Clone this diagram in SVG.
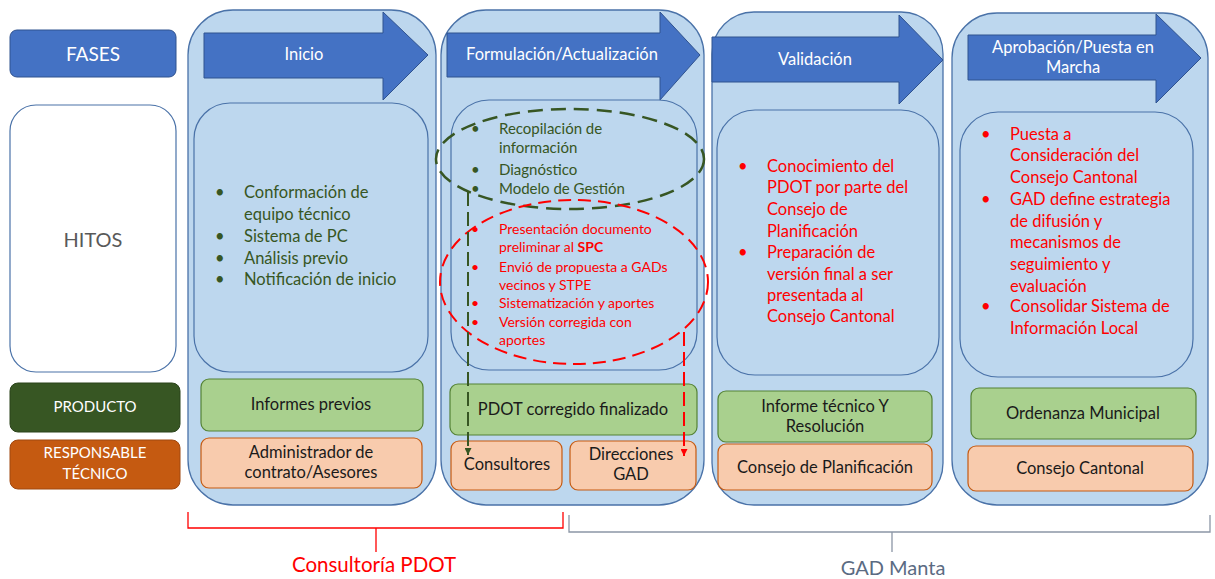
<svg xmlns="http://www.w3.org/2000/svg" width="1215" height="579" viewBox="0 0 1215 579">
<style>
text{font-family:Lato,"Noto Sans","Liberation Sans",sans-serif}
.outer{fill:#BDD7EE;stroke:#4A72A8;stroke-width:1.3}
.inner{fill:#BDD7EE;stroke:#4A72A8;stroke-width:1.2}
.arrow{fill:#4472C4;stroke:#2F528F;stroke-width:1}
.atxt{fill:#fff;font-size:16.5px;text-anchor:middle}
.prod{fill:#A9D08E;stroke:#548235;stroke-width:1.2}
.resp{fill:#F8CBAD;stroke:#C55A11;stroke-width:1.2}
.btxt{fill:#1a1a1a;font-size:16.5px;text-anchor:middle}
.g{fill:#375623;font-size:16.5px}
.gs{fill:#375623;font-size:15px}
.r{fill:#FF0000;font-size:16.5px}
.rs{fill:#FF0000;font-size:14px}
.lbl{fill:#fff;text-anchor:middle}
</style>
<defs>
<marker id="mg" viewBox="0 0 10 10" refX="5" refY="10" markerWidth="7" markerHeight="7" markerUnits="userSpaceOnUse"><path d="M0,0 L10,0 L5,10 z" fill="#375623"/></marker>
<marker id="mr" viewBox="0 0 10 10" refX="5" refY="10" markerWidth="7" markerHeight="7" markerUnits="userSpaceOnUse"><path d="M0,0 L10,0 L5,10 z" fill="#FF0000"/></marker>
</defs>

<g id="label-fases"><rect x="10" y="30" width="166" height="47" rx="7" fill="#4472C4" stroke="#2F528F"/><text class="lbl" x="93" y="61" font-size="19">FASES</text></g>
<g id="label-hitos"><rect x="10" y="105" width="166" height="267" rx="26" fill="#fff" stroke="#4A72A8" stroke-width="1.2"/><text x="93" y="247" font-size="20" fill="#595959" text-anchor="middle">HITOS</text></g>
<g id="label-producto"><rect x="10" y="383" width="170" height="49" rx="8" fill="#375623" stroke="#2B431B"/><text class="lbl" x="95" y="412" font-size="15">PRODUCTO</text></g>
<g id="label-responsable"><rect x="10" y="440" width="170" height="49" rx="8" fill="#C55A11" stroke="#A04810"/><text class="lbl" x="95" y="458" font-size="15">RESPONSABLE</text><text class="lbl" x="95" y="479" font-size="15">TÉCNICO</text></g>

<g id="phase-inicio">
<rect class="outer" x="188" y="10" width="248" height="495" rx="45"/>
<path class="arrow" d="M204,33 H383 V12 L428,55 L383,100 V78 H204 Z"/>
<text class="atxt" x="304" y="60">Inicio</text>
<rect class="inner" x="194" y="103" width="234" height="269" rx="36"/>
<g class="g">
<text x="215" y="198">•</text><text x="244" y="198">Conformación de</text>
<text x="244" y="220">equipo técnico</text>
<text x="215" y="242">•</text><text x="244" y="242">Sistema de PC</text>
<text x="215" y="264">•</text><text x="244" y="264">Análisis previo</text>
<text x="215" y="285">•</text><text x="244" y="285">Notificación de inicio</text>
</g>
<rect class="prod" x="201" y="379" width="222" height="52" rx="8"/>
<text class="btxt" x="311" y="410">Informes previos</text>
<rect class="resp" x="201" y="438" width="221" height="50" rx="8"/>
<text class="btxt" x="311" y="458">Administrador de</text>
<text class="btxt" x="311" y="478">contrato/Asesores</text>
</g>

<g id="phase-formulacion">
<rect class="outer" x="441" y="10" width="263" height="495" rx="45"/>
<path class="arrow" d="M447,33 H660 V12 L700,55 L660,100 V77 H447 Z"/>
<text class="atxt" x="562" y="60">Formulación/Actualización</text>
<rect class="inner" x="451" y="100" width="246" height="270" rx="38"/>
<g class="gs">
<text x="471" y="134">•</text><text x="499" y="134">Recopilación de</text>
<text x="499" y="153">información</text>
<text x="471" y="175">•</text><text x="499" y="175">Diagnóstico</text>
<text x="471" y="194">•</text><text x="499" y="194">Modelo de Gestión</text>
</g>
<g class="rs">
<text x="471" y="234">•</text><text x="499" y="234">Presentación documento</text>
<text x="499" y="252">preliminar al <tspan font-weight="bold">SPC</tspan></text>
<text x="471" y="272">•</text><text x="499" y="272">Envió de propuesta a GADs</text>
<text x="499" y="290">vecinos y STPE</text>
<text x="471" y="308">•</text><text x="499" y="308">Sistematización y aportes</text>
<text x="471" y="327">•</text><text x="499" y="327">Versión corregida con</text>
<text x="499" y="345">aportes</text>
</g>
<ellipse cx="570" cy="159" rx="134" ry="50" fill="none" stroke="#375623" stroke-width="2.5" stroke-dasharray="15,8"/>
<ellipse cx="574" cy="282" rx="134" ry="82" fill="none" stroke="#FF0000" stroke-width="2" stroke-dasharray="13,7"/>
<rect class="prod" x="450" y="384" width="247" height="51" rx="8"/>
<text class="btxt" x="573" y="415">PDOT corregido finalizado</text>
<rect class="resp" x="451" y="441" width="111" height="49" rx="8"/>
<text class="btxt" x="507" y="470">Consultores</text>
<rect class="resp" x="570" y="441" width="126" height="49" rx="8"/>
<text class="btxt" x="631" y="460">Direcciones</text>
<text class="btxt" x="631" y="480">GAD</text>
</g>

<g id="phase-validacion">
<rect class="outer" x="712" y="12" width="231" height="493" rx="42"/>
<path class="arrow" d="M712,37 H899 V15 L943,60 L899,104 V82 H712 Z"/>
<text class="atxt" x="815" y="65">Validación</text>
<rect class="inner" x="717" y="110" width="222" height="265" rx="38"/>
<g class="r">
<text x="738" y="172">•</text><text x="767" y="172">Conocimiento del</text>
<text x="767" y="193">PDOT por parte del</text>
<text x="767" y="215">Consejo de</text>
<text x="767" y="237">Planificación</text>
<text x="738" y="258">•</text><text x="767" y="258">Preparación de</text>
<text x="767" y="280">versión final a ser</text>
<text x="767" y="301">presentada al</text>
<text x="767" y="322">Consejo Cantonal</text>
</g>
<rect class="prod" x="718" y="391" width="214" height="51" rx="8"/>
<text class="btxt" x="825" y="412">Informe técnico Y</text>
<text class="btxt" x="825" y="432">Resolución</text>
<rect class="resp" x="718" y="444" width="214" height="46" rx="8"/>
<text class="btxt" x="825" y="473">Consejo de Planificación</text>
</g>

<g id="phase-aprobacion">
<rect class="outer" x="952" y="13" width="256" height="492" rx="45"/>
<path class="arrow" d="M968,35 H1156 V14 L1201,58 L1156,103 V80 H968 Z"/>
<text class="atxt" x="1073" y="53">Aprobación/Puesta en</text>
<text class="atxt" x="1073" y="73">Marcha</text>
<rect class="inner" x="960" y="112" width="233" height="265" rx="38"/>
<g class="r">
<text x="981" y="140">•</text><text x="1010" y="140">Puesta a</text>
<text x="1010" y="161">Consideración del</text>
<text x="1010" y="183">Consejo Cantonal</text>
<text x="981" y="205">•</text><text x="1010" y="205">GAD define estrategia</text>
<text x="1010" y="227">de difusión y</text>
<text x="1010" y="248">mecanismos de</text>
<text x="1010" y="270">seguimiento y</text>
<text x="1010" y="292">evaluación</text>
<text x="981" y="312">•</text><text x="1010" y="312">Consolidar Sistema de</text>
<text x="1010" y="334">Información Local</text>
</g>
<rect class="prod" x="971" y="388" width="225" height="51" rx="8"/>
<text class="btxt" x="1083" y="419">Ordenanza Municipal</text>
<rect class="resp" x="968" y="446" width="225" height="45" rx="8"/>
<text class="btxt" x="1080" y="474">Consejo Cantonal</text>
</g>

<g id="connectors">
<path d="M468,192 V455" fill="none" stroke="#375623" stroke-width="2" stroke-dasharray="14,6" marker-end="url(#mg)"/>
<path d="M684,332 V456" fill="none" stroke="#FF0000" stroke-width="2" stroke-dasharray="14,6" marker-end="url(#mr)"/>
</g>

<g id="brace-consultoria">
<path d="M188,512 V528 H563 V512 M376,528 V552" fill="none" stroke="#FF0000" stroke-width="1.3"/>
<text x="374" y="572" font-size="20.5" fill="#FF0000" text-anchor="middle">Consultoría PDOT</text>
</g>
<g id="brace-gad">
<path d="M569,515 V532 H1210 V515 M892,532 V552" fill="none" stroke="#8C96A6" stroke-width="1.3"/>
<text x="893" y="575" font-size="20" fill="#5B6B82" text-anchor="middle">GAD Manta</text>
</g>
</svg>
